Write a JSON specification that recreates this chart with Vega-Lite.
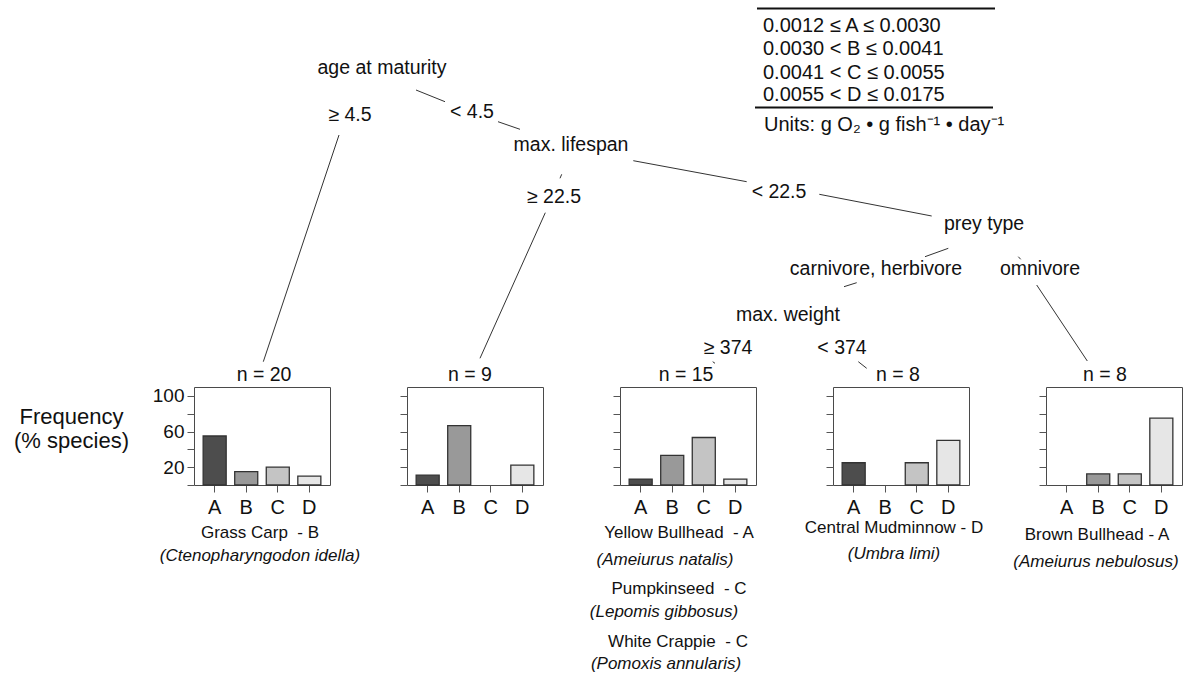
{
  "$schema": "https://vega.github.io/schema/vega-lite/v6.json",
  "padding": {"left": 13, "top": 0, "right": 0, "bottom": 0},
  "background": "white",
  "spacing": 0,
  "config": {"font": "Liberation Sans", "view": {"stroke": null}},
  "datasets": {
    "bars": [
      {"leaf": 1, "cls": "A", "pct": 55}, {"leaf": 1, "cls": "B", "pct": 15}, {"leaf": 1, "cls": "C", "pct": 20}, {"leaf": 1, "cls": "D", "pct": 10},
      {"leaf": 2, "cls": "A", "pct": 11.1}, {"leaf": 2, "cls": "B", "pct": 66.7}, {"leaf": 2, "cls": "C", "pct": 0}, {"leaf": 2, "cls": "D", "pct": 22.2},
      {"leaf": 3, "cls": "A", "pct": 6.7}, {"leaf": 3, "cls": "B", "pct": 33.3}, {"leaf": 3, "cls": "C", "pct": 53.3}, {"leaf": 3, "cls": "D", "pct": 6.7},
      {"leaf": 4, "cls": "A", "pct": 25}, {"leaf": 4, "cls": "B", "pct": 0}, {"leaf": 4, "cls": "C", "pct": 25}, {"leaf": 4, "cls": "D", "pct": 50},
      {"leaf": 5, "cls": "A", "pct": 0}, {"leaf": 5, "cls": "B", "pct": 12.5}, {"leaf": 5, "cls": "C", "pct": 12.5}, {"leaf": 5, "cls": "D", "pct": 75}
    ],
    "edges": [
      {"x": 416, "y": 90, "x2": 445, "y2": 101.7},
      {"x": 498, "y": 121.7, "x2": 520, "y2": 129.3},
      {"x": 339, "y": 135, "x2": 263.3, "y2": 361.7},
      {"x": 561.7, "y": 174.3, "x2": 560, "y2": 178.3},
      {"x": 545.3, "y": 212.7, "x2": 480, "y2": 358.3},
      {"x": 633.3, "y": 160.7, "x2": 746.7, "y2": 181.7},
      {"x": 819.3, "y": 194.3, "x2": 931.7, "y2": 216},
      {"x": 948.3, "y": 248.3, "x2": 925, "y2": 256.7},
      {"x": 856.7, "y": 282.7, "x2": 844, "y2": 286.7},
      {"x": 1018.3, "y": 256.7, "x2": 1020.7, "y2": 259.3},
      {"x": 1036.7, "y": 285, "x2": 1087.3, "y2": 361},
      {"x": 712.7, "y": 361.7, "x2": 715, "y2": 363.3},
      {"x": 858.3, "y": 361.7, "x2": 866.7, "y2": 368.3}
    ],
    "tableRules": [
      {"x": 757, "y": 8.5, "x2": 995, "y2": 8.5},
      {"x": 755, "y": 107.5, "x2": 993, "y2": 107.5}
    ],
    "treeText": [
      {"kind": "node", "label": "age at maturity", "x": 382, "y": 68},
      {"kind": "node", "label": "max. lifespan", "x": 571, "y": 145},
      {"kind": "node", "label": "prey type", "x": 984, "y": 224},
      {"kind": "node", "label": "max. weight", "x": 788, "y": 315},
      {"kind": "node", "label": "≥ 4.5", "x": 350, "y": 115},
      {"kind": "node", "label": "< 4.5", "x": 472, "y": 112},
      {"kind": "node", "label": "≥ 22.5", "x": 554, "y": 197},
      {"kind": "node", "label": "< 22.5", "x": 779, "y": 192},
      {"kind": "node", "label": "carnivore, herbivore", "x": 876, "y": 269},
      {"kind": "node", "label": "omnivore", "x": 1040, "y": 269},
      {"kind": "node", "label": "≥ 374", "x": 728, "y": 348},
      {"kind": "node", "label": "< 374", "x": 842, "y": 348},
      {"kind": "node", "label": "n = 20", "x": 264, "y": 375},
      {"kind": "node", "label": "n = 9", "x": 470, "y": 375},
      {"kind": "node", "label": "n = 15", "x": 686, "y": 375},
      {"kind": "node", "label": "n = 8", "x": 898, "y": 375},
      {"kind": "node", "label": "n = 8", "x": 1105, "y": 375},
      {"kind": "legend", "label": "0.0012 ≤ A ≤ 0.0030", "x": 763, "y": 26},
      {"kind": "legend", "label": "0.0030 < B ≤ 0.0041", "x": 763, "y": 49},
      {"kind": "legend", "label": "0.0041 < C ≤ 0.0055", "x": 763, "y": 72.5},
      {"kind": "legend", "label": "0.0055 < D ≤ 0.0175", "x": 763, "y": 94.5},
      {"kind": "legend", "label": "Units: g O₂ • g fish⁻¹ • day⁻¹", "x": 764, "y": 125}
    ],
    "species": [
      {"kind": "common", "label": "Grass Carp\u00a0 - B", "x": 260, "y": 533},
      {"kind": "latin", "label": "(Ctenopharyngodon idella)", "x": 260, "y": 556},
      {"kind": "common", "label": "Yellow Bullhead\u00a0 - A", "x": 679, "y": 533},
      {"kind": "latin", "label": "(Ameiurus natalis)", "x": 665, "y": 560},
      {"kind": "common", "label": "Pumpkinseed\u00a0 - C", "x": 679, "y": 589},
      {"kind": "latin", "label": "(Lepomis gibbosus)", "x": 664, "y": 612},
      {"kind": "common", "label": "White Crappie\u00a0 - C", "x": 678, "y": 642},
      {"kind": "latin", "label": "(Pomoxis annularis)", "x": 666, "y": 664},
      {"kind": "common", "label": "Central Mudminnow - D", "x": 894, "y": 528},
      {"kind": "latin", "label": "(Umbra limi)", "x": 894, "y": 554},
      {"kind": "common", "label": "Brown Bullhead - A", "x": 1097, "y": 535},
      {"kind": "latin", "label": "(Ameiurus nebulosus)", "x": 1096, "y": 562}
    ]
  },
  "vconcat": [
    {
      "width": 993,
      "height": 386,
      "encoding": {
        "x": {"field": "x", "type": "quantitative", "scale": {"domain": [194, 1187], "nice": false, "zero": false}, "axis": null},
        "y": {"field": "y", "type": "quantitative", "scale": {"domain": [0, 386], "nice": false, "zero": false, "reverse": true}, "axis": null}
      },
      "layer": [
        {"data": {"name": "edges"}, "mark": {"type": "rule", "color": "#333", "strokeWidth": 1}, "encoding": {"x2": {"field": "x2"}, "y2": {"field": "y2"}}},
        {"data": {"name": "tableRules"}, "mark": {"type": "rule", "color": "#111", "strokeWidth": 2}, "encoding": {"x2": {"field": "x2"}, "y2": {"field": "y2"}}},
        {"data": {"name": "treeText"}, "transform": [{"filter": "datum.kind == 'node'"}], "mark": {"type": "text", "fontSize": 19.5, "align": "center", "baseline": "middle", "color": "#111"}, "encoding": {"text": {"field": "label"}}},
        {"data": {"name": "treeText"}, "transform": [{"filter": "datum.kind == 'legend'"}], "mark": {"type": "text", "fontSize": 20, "align": "left", "baseline": "middle", "color": "#111"}, "encoding": {"text": {"field": "label"}}}
      ]
    },
    {
      "bounds": "flush",
      "spacing": 77,
      "hconcat": [
        {
          "width": 136, "height": 98,
          "view": {"stroke": "#4a4a4a", "strokeWidth": 1},
          "data": {"name": "bars"},
          "transform": [{"filter": "datum.leaf == 1 && datum.pct > 0"}],
          "mark": {"type": "bar", "stroke": "#333", "strokeWidth": 1.3},
          "encoding": {
            "x": {"field": "cls", "type": "nominal", "scale": {"domain": ["A", "B", "C", "D"], "paddingInner": 0.27, "paddingOuter": 0.29}, "axis": {"title": null, "labelAngle": 0, "labelFontSize": 20, "labelColor": "#111", "labelPadding": 5, "tickSize": 7, "tickColor": "#555", "domain": false, "grid": false}},
            "y": {"field": "pct", "type": "quantitative", "scale": {"domain": [0, 110], "nice": false}, "axis": {"values": [0, 20, 40, 60, 80, 100], "labelExpr": "datum.value % 40 == 20 ? datum.label : ''", "labelFontSize": 19, "labelColor": "#111", "labelPadding": 3, "tickSize": 7, "tickColor": "#555", "domain": false, "grid": false, "title": ["Frequency", "(% species)"], "titleAngle": 0, "titleFontSize": 22, "titleFontWeight": "normal", "titleAlign": "center", "titleBaseline": "top", "titleX": -123, "titleY": 19, "titleLineHeight": 24, "titleColor": "#111"}},
            "color": {"field": "cls", "type": "nominal", "scale": {"domain": ["A", "B", "C", "D"], "range": ["#4d4d4d", "#999999", "#c4c4c4", "#e6e6e6"]}, "legend": null}
          }
        },
        {
          "width": 136, "height": 98,
          "view": {"stroke": "#4a4a4a", "strokeWidth": 1},
          "data": {"name": "bars"},
          "transform": [{"filter": "datum.leaf == 2 && datum.pct > 0"}],
          "mark": {"type": "bar", "stroke": "#333", "strokeWidth": 1.3},
          "encoding": {
            "x": {"field": "cls", "type": "nominal", "scale": {"domain": ["A", "B", "C", "D"], "paddingInner": 0.27, "paddingOuter": 0.29}, "axis": {"title": null, "labelAngle": 0, "labelFontSize": 20, "labelColor": "#111", "labelPadding": 5, "tickSize": 7, "tickColor": "#555", "domain": false, "grid": false}},
            "y": {"field": "pct", "type": "quantitative", "scale": {"domain": [0, 110], "nice": false}, "axis": {"values": [0, 20, 40, 60, 80, 100], "labels": false, "tickSize": 7, "tickColor": "#555", "domain": false, "grid": false, "title": null}},
            "color": {"field": "cls", "type": "nominal", "scale": {"domain": ["A", "B", "C", "D"], "range": ["#4d4d4d", "#999999", "#c4c4c4", "#e6e6e6"]}, "legend": null}
          }
        },
        {
          "width": 136, "height": 98,
          "view": {"stroke": "#4a4a4a", "strokeWidth": 1},
          "data": {"name": "bars"},
          "transform": [{"filter": "datum.leaf == 3 && datum.pct > 0"}],
          "mark": {"type": "bar", "stroke": "#333", "strokeWidth": 1.3},
          "encoding": {
            "x": {"field": "cls", "type": "nominal", "scale": {"domain": ["A", "B", "C", "D"], "paddingInner": 0.27, "paddingOuter": 0.29}, "axis": {"title": null, "labelAngle": 0, "labelFontSize": 20, "labelColor": "#111", "labelPadding": 5, "tickSize": 7, "tickColor": "#555", "domain": false, "grid": false}},
            "y": {"field": "pct", "type": "quantitative", "scale": {"domain": [0, 110], "nice": false}, "axis": {"values": [0, 20, 40, 60, 80, 100], "labels": false, "tickSize": 7, "tickColor": "#555", "domain": false, "grid": false, "title": null}},
            "color": {"field": "cls", "type": "nominal", "scale": {"domain": ["A", "B", "C", "D"], "range": ["#4d4d4d", "#999999", "#c4c4c4", "#e6e6e6"]}, "legend": null}
          }
        },
        {
          "width": 136, "height": 98,
          "view": {"stroke": "#4a4a4a", "strokeWidth": 1},
          "data": {"name": "bars"},
          "transform": [{"filter": "datum.leaf == 4 && datum.pct > 0"}],
          "mark": {"type": "bar", "stroke": "#333", "strokeWidth": 1.3},
          "encoding": {
            "x": {"field": "cls", "type": "nominal", "scale": {"domain": ["A", "B", "C", "D"], "paddingInner": 0.27, "paddingOuter": 0.29}, "axis": {"title": null, "labelAngle": 0, "labelFontSize": 20, "labelColor": "#111", "labelPadding": 5, "tickSize": 7, "tickColor": "#555", "domain": false, "grid": false}},
            "y": {"field": "pct", "type": "quantitative", "scale": {"domain": [0, 110], "nice": false}, "axis": {"values": [0, 20, 40, 60, 80, 100], "labels": false, "tickSize": 7, "tickColor": "#555", "domain": false, "grid": false, "title": null}},
            "color": {"field": "cls", "type": "nominal", "scale": {"domain": ["A", "B", "C", "D"], "range": ["#4d4d4d", "#999999", "#c4c4c4", "#e6e6e6"]}, "legend": null}
          }
        },
        {
          "width": 136, "height": 98,
          "view": {"stroke": "#4a4a4a", "strokeWidth": 1},
          "data": {"name": "bars"},
          "transform": [{"filter": "datum.leaf == 5 && datum.pct > 0"}],
          "mark": {"type": "bar", "stroke": "#333", "strokeWidth": 1.3},
          "encoding": {
            "x": {"field": "cls", "type": "nominal", "scale": {"domain": ["A", "B", "C", "D"], "paddingInner": 0.27, "paddingOuter": 0.29}, "axis": {"title": null, "labelAngle": 0, "labelFontSize": 20, "labelColor": "#111", "labelPadding": 5, "tickSize": 7, "tickColor": "#555", "domain": false, "grid": false}},
            "y": {"field": "pct", "type": "quantitative", "scale": {"domain": [0, 110], "nice": false}, "axis": {"values": [0, 20, 40, 60, 80, 100], "labels": false, "tickSize": 7, "tickColor": "#555", "domain": false, "grid": false, "title": null}},
            "color": {"field": "cls", "type": "nominal", "scale": {"domain": ["A", "B", "C", "D"], "range": ["#4d4d4d", "#999999", "#c4c4c4", "#e6e6e6"]}, "legend": null}
          }
        }
      ]
    },
    {
      "width": 993,
      "height": 157,
      "data": {"name": "species"},
      "encoding": {
        "x": {"field": "x", "type": "quantitative", "scale": {"domain": [194, 1187], "nice": false, "zero": false}, "axis": null},
        "y": {"field": "y", "type": "quantitative", "scale": {"domain": [518, 675], "nice": false, "zero": false, "reverse": true}, "axis": null},
        "text": {"field": "label"}
      },
      "layer": [
        {"transform": [{"filter": "datum.kind == 'common'"}], "mark": {"type": "text", "fontSize": 17, "align": "center", "baseline": "middle", "color": "#111"}},
        {"transform": [{"filter": "datum.kind == 'latin'"}], "mark": {"type": "text", "fontSize": 17, "fontStyle": "italic", "align": "center", "baseline": "middle", "color": "#111"}}
      ]
    }
  ]
}
